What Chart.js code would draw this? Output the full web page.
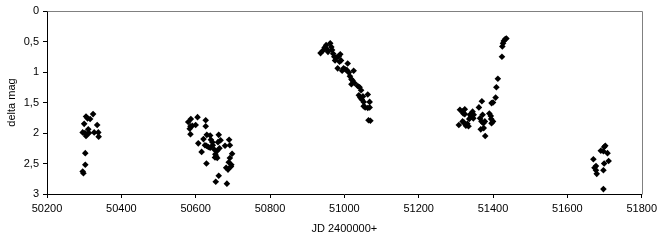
<!DOCTYPE html>
<html><head><meta charset="utf-8">
<script src="https://cdn.jsdelivr.net/npm/chart.js@4"></script>
<style>html,body{margin:0;padding:0;background:#fff}#wrap{width:661px;height:241px}</style>
</head><body><div id="wrap"><canvas id="c" width="661" height="241"></canvas></div>
<script>
const jd = [
50296,50300,50305,50309,50316,50324,50311,50302,50305,50308,50313,50327,50335,50338,50339,50303,50303,50298,50296,
50580,50587,50584,50586,50591,50600,50605,50586,50607,50616,50621,50625,50629,50627,50627,50630,50634,50639,50629,50639,50641,50645,50646,50650,50653,50652,50655,50658,50658,50660,50664,50662,50667,50654,50662,50679,50684,50682,50687,50689,50690,50692,50692,50695,50696,50698,
50936,50942,50947,50951,50954,50956,50962,50965,50967,50970,50973,50975,50980,50985,50989,50991,50987,50982,50994,50998,51003,51007,51009,51012,51015,51019,51019,51022,51025,51027,51036,51041,51045,51039,51043,51047,51052,51050,51063,51052,51056,51063,51068,51068,51065,51070,
51308,51311,51318,51324,51320,51324,51318,51322,51327,51331,51334,51336,51338,51340,51342,51345,51348,51347,51362,51365,51367,51370,51372,51369,51374,51375,51378,51379,51390,51394,51395,51396,51400,51396,51400,51407,51409,51413,51424,51425,51427,51429,51433,51436,
51670,51673,51677,51679,51677,51690,51697,51699,51702,51708,51711,51699,51697,51697
];
const deltaMag = [
1.99,1.85,1.73,1.76,1.77,1.69,1.94,2.00,2.05,2.02,2.00,1.99,1.87,1.99,2.06,2.33,2.52,2.66,2.63,
1.82,1.77,1.93,1.89,1.88,1.87,1.74,2.02,2.17,2.31,2.10,2.20,2.21,1.79,1.89,2.03,2.23,2.24,2.50,2.04,2.11,2.15,2.20,2.27,2.35,2.40,2.38,2.29,2.41,2.15,2.25,2.03,2.12,2.80,2.70,2.21,2.83,2.57,2.60,2.48,2.11,2.20,2.41,2.55,2.52,2.34,
0.69,0.65,0.60,0.56,0.63,0.67,0.53,0.59,0.64,0.70,0.75,0.81,0.76,0.74,0.71,0.81,0.83,0.94,0.98,0.94,0.96,0.97,0.86,1.01,1.07,1.12,1.20,1.14,0.98,1.18,1.23,1.25,1.30,1.38,1.42,1.45,1.49,1.40,1.37,1.56,1.58,1.59,1.58,1.49,1.79,1.80,
1.87,1.62,1.65,1.61,1.68,1.69,1.81,1.83,1.88,1.85,1.89,1.77,1.70,1.74,1.68,1.65,1.70,1.76,1.58,1.76,1.94,1.48,1.70,1.81,1.84,1.92,1.81,2.05,1.68,1.72,1.77,1.84,1.81,1.51,1.50,1.42,1.25,1.11,0.75,0.58,0.53,0.49,0.46,0.45,
2.43,2.57,2.61,2.67,2.54,2.29,2.30,2.23,2.21,2.33,2.46,2.50,2.61,2.92
];
const yTickValues = [0,0.5,1,1.5,2,2.5,3];
const yTickLabels = ['0','0,5','1','1,5','2','2,5','3'];
const xTitle = 'JD 2400000+';
const yTitle = 'delta mag';

const points = jd.map((x,i)=>({x:x,y:deltaMag[i]}));
const font = {family:'"Liberation Sans", Arial, sans-serif', size:11};

const frame = {
  id:'frame',
  beforeDatasetsDraw(chart){
    const a = chart.chartArea, ctx = chart.ctx;
    ctx.save();
    ctx.strokeStyle = '#808080';
    ctx.lineWidth = 1;
    ctx.beginPath();
    ctx.moveTo(Math.round(a.left)+0.5, Math.round(a.top)+0.5);
    ctx.lineTo(Math.round(a.right)+0.5, Math.round(a.top)+0.5);
    ctx.lineTo(Math.round(a.right)+0.5, Math.round(a.bottom)+0.5);
    ctx.stroke();
    ctx.restore();
  }
};

new Chart(document.getElementById('c'), {
  type:'scatter',
  data:{datasets:[{data:points, pointStyle:'rectRot', radius:3.3, backgroundColor:'#000', borderColor:'#000', borderWidth:0}]},
  options:{
    responsive:false, animation:false, devicePixelRatio:1,
    layout:{padding:{top:11, right:19, left:0, bottom:0}},
    plugins:{legend:{display:false}, tooltip:{enabled:false}},
    scales:{
      x:{type:'linear', min:50200, max:51800,
        ticks:{stepSize:200, color:'#000', font:font, padding:4, maxRotation:0, autoSkip:false, callback:(v)=>String(v)},
        grid:{drawOnChartArea:false, drawTicks:true, tickLength:4, color:'#000'},
        border:{color:'#000', width:1},
        title:{display:true, text:xTitle, color:'#000', font:font, padding:{top:2,bottom:5}},
        afterFit(s){ s.height = 47; }
      },
      y:{type:'linear', min:0, max:3, reverse:true,
        ticks:{stepSize:0.5, color:'#000', font:font, padding:4,
          callback:(v)=>{const k=yTickValues.findIndex(t=>Math.abs(t-v)<1e-6); return k>=0?yTickLabels[k]:'';}},
        grid:{drawOnChartArea:false, drawTicks:true, tickLength:4, color:'#000'},
        border:{color:'#000', width:1},
        title:{display:true, text:yTitle, color:'#000', font:font, padding:{top:5,bottom:2}},
        afterFit(s){ s.width = 47; }
      }
    }
  },
  plugins:[frame]
});
</script></body></html>
